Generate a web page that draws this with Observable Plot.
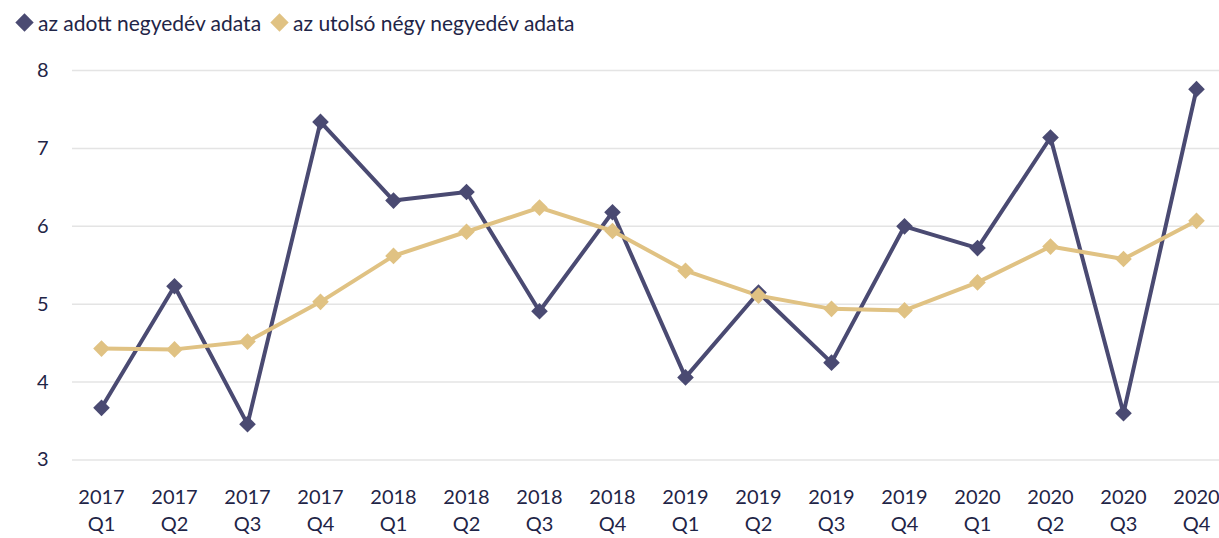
<!DOCTYPE html>
<html>
<head>
<meta charset="utf-8">
<script src="https://cdn.jsdelivr.net/npm/d3@7"></script>
<script src="https://cdn.jsdelivr.net/npm/@observablehq/plot@0.6"></script>
<style>
  body { margin: 0; background: #fff; font-family: Lato, "Open Sans", sans-serif; color: #1f2547; }
  #legend { height: 40px; display: flex; align-items: center; padding-left: 16px; font-size: 21px; box-sizing: border-box; padding-top: 4px; }
  .item { display: flex; align-items: center; margin-right: 10px; }
  .mk { width: 13px; height: 13px; transform: rotate(45deg); margin-right: 7px; margin-left: 2px; }
</style>
</head>
<body>
<div id="legend"></div>
<div id="chart"></div>
<script>
const quarters = ["2017\nQ1","2017\nQ2","2017\nQ3","2017\nQ4","2018\nQ1","2018\nQ2","2018\nQ3","2018\nQ4","2019\nQ1","2019\nQ2","2019\nQ3","2019\nQ4","2020\nQ1","2020\nQ2","2020\nQ3","2020\nQ4"];
const quarterly = [3.67,5.23,3.46,7.34,6.33,6.44,4.91,6.18,4.06,5.15,4.25,6.00,5.72,7.14,3.60,7.76];
const lastFour  = [4.43,4.42,4.52,5.03,5.62,5.93,6.24,5.94,5.43,5.11,4.94,4.92,5.28,5.74,5.58,6.07];
const seriesNames = ["az adott negyedév adata","az utolsó négy negyedév adata"];
const seriesColors = ["#4a4a72","#e0c283"];
const yTicks = [3,4,5,6,7,8];

const legend = document.getElementById("legend");
seriesNames.forEach((n,i) => {
  const it = document.createElement("div"); it.className = "item";
  const m = document.createElement("div"); m.className = "mk"; m.style.background = seriesColors[i];
  const t = document.createElement("span"); t.textContent = n;
  it.appendChild(m); it.appendChild(t); legend.appendChild(it);
});

const data = [];
quarters.forEach((q,i) => {
  data.push({q, v: quarterly[i], s: seriesNames[0]});
});
quarters.forEach((q,i) => {
  data.push({q, v: lastFour[i], s: seriesNames[1]});
});

const chart = Plot.plot({
  width: 1219,
  height: 498,
  marginTop: 30,
  marginBottom: 78.5,
  marginLeft: 72,
  marginRight: 0,
  style: { fontFamily: "Lato, 'Open Sans', sans-serif", fontSize: "20px", color: "#1f2547", background: "#fff" },
  x: { type: "point", domain: quarters, padding: 0, insetLeft: 28, insetRight: 23 },
  y: { domain: [3, 8], ticks: yTicks },
  color: { domain: seriesNames, range: seriesColors },
  marks: [
    Plot.gridY(yTicks, { stroke: "#e4e4e4", strokeOpacity: 1, strokeWidth: 1.5 }),
    Plot.axisY(yTicks, { tickSize: 0, tickPadding: 24, fontSize: 20, tickFormat: "d", label: null }),
    Plot.axisX({ tickSize: 0, tickPadding: 25, fontSize: 20, lineHeight: 1.35, label: null }),
    Plot.line(data, { x: "q", y: "v", z: "s", stroke: "s", strokeWidth: 4, strokeLinejoin: "miter" }),
    Plot.dot(data, { x: "q", y: "v", fill: "s", symbol: "diamond2", r: 7.5, stroke: null })
  ]
});
document.getElementById("chart").appendChild(chart);
</script>
</body>
</html>
